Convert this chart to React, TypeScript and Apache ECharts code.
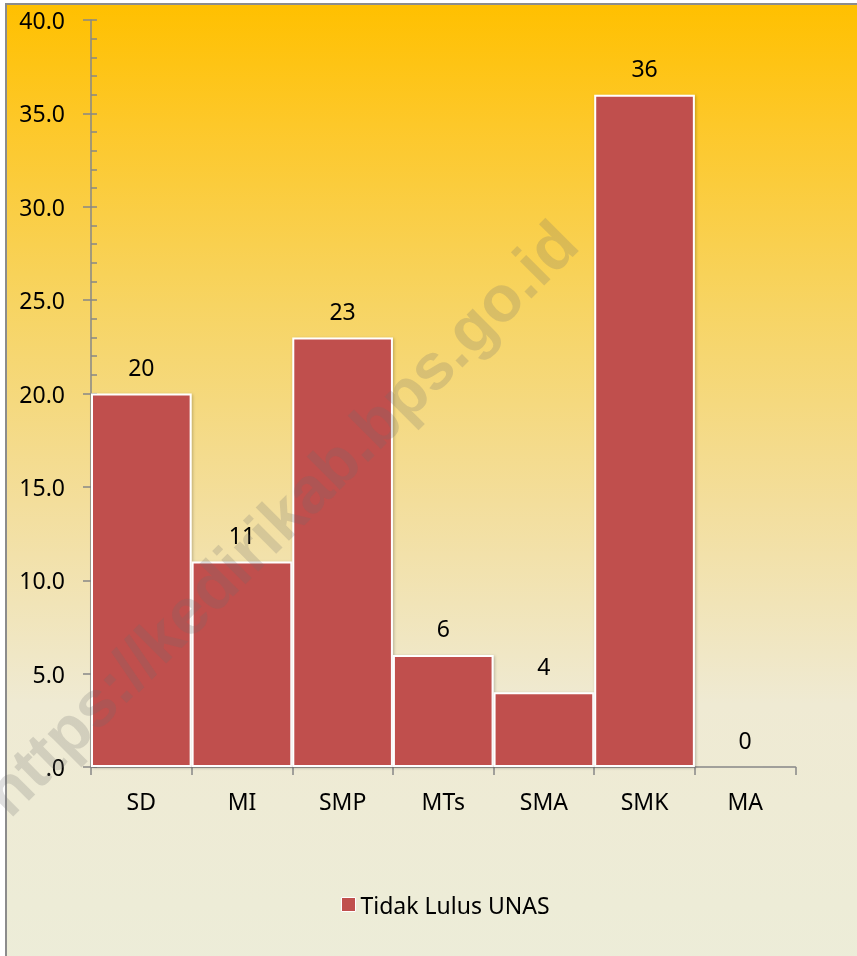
import React, { useEffect, useRef } from "react";
import * as echarts from "echarts";

const categories = ["SD", "MI", "SMP", "MTs", "SMA", "SMK", "MA"];
const values = [20, 11, 23, 6, 4, 36, 0];
const seriesName = "Tidak Lulus UNAS";
const yMin = 0;
const yMax = 40;
const yInterval = 5;
const watermarkText = "https://kedirikab.bps.go.id";

const FONT = "'Noto Sans', sans-serif";
const AXIS_COLOR = "#878787";

export default function App() {
  const ref = useRef<HTMLDivElement>(null);
  useEffect(() => {
    if (!ref.current) return;
    const chart = echarts.init(ref.current, null, { renderer: "svg" });
    const fmt = (v: number) => (v === 0 ? ".0" : v.toFixed(1));
    chart.setOption({
      animation: false,
      backgroundColor: "transparent",
      textStyle: { fontFamily: FONT },
      graphic: [
        {
          type: "rect",
          z: -10,
          silent: true,
          shape: { x: 6, y: 4, width: 900, height: 1000 },
          style: {
            fill: new echarts.graphic.LinearGradient(0, 0, 0, 1, [
              { offset: 0, color: "#FFC000" },
              { offset: 0.12, color: "#FDC829" },
              { offset: 0.3, color: "#F7D462" },
              { offset: 0.5, color: "#F3DE9C" },
              { offset: 0.7, color: "#EFEAD3" },
              { offset: 1, color: "#ECEDD9" },
            ]),
            stroke: "#8C8C8C",
            lineWidth: 2,
          },
        },
        {
          type: "text",
          z: 100,
          silent: true,
          x: 280,
          y: 518,
          rotation: Math.PI / 4,
          style: {
            text: watermarkText,
            font: "bold 65px 'Liberation Sans', Arial, sans-serif",
            fill: "rgba(110,110,110,0.22)",
            align: "center",
            verticalAlign: "middle",
          },
        },
      ],
      grid: { left: 91, right: 61.5, top: 20, bottom: 189, containLabel: false },
      legend: {
        data: [seriesName],
        left: 336,
        top: 888,
        itemWidth: 14,
        itemHeight: 14,
        icon: "rect",
        itemStyle: { borderColor: "#ffffff", borderWidth: 1 },
        textStyle: { fontFamily: FONT, fontSize: 23, color: "#000", padding: [0, 0, 0, 0] },
      },
      xAxis: {
        type: "category",
        data: categories,
        boundaryGap: true,
        axisLine: { show: true, lineStyle: { color: AXIS_COLOR, width: 1.5 } },
        axisTick: { show: true, alignWithLabel: false, length: 8, lineStyle: { color: AXIS_COLOR, width: 1.5 } },
        axisLabel: { fontFamily: FONT, fontSize: 23, color: "#000", margin: 22, interval: 0 },
        splitLine: { show: false },
      },
      yAxis: [
        {
          type: "value",
          min: yMin,
          max: yMax,
          interval: yInterval,
          axisLine: { show: true, lineStyle: { color: AXIS_COLOR, width: 1.5 } },
          axisTick: { show: true, length: 8, lineStyle: { color: AXIS_COLOR, width: 1.5 } },
          axisLabel: { fontFamily: FONT, fontSize: 23, color: "#000", margin: 26, formatter: fmt },
          splitLine: { show: false },
        },
        {
          type: "value",
          min: yMin,
          max: yMax,
          interval: yInterval,
          position: "left",
          axisLine: { show: false },
          axisTick: { show: true, inside: true, length: 6, lineStyle: { color: AXIS_COLOR, width: 1.5 } },
          minorTick: { show: true, splitNumber: 5, length: 6, lineStyle: { color: AXIS_COLOR, width: 1.5 } },
          axisLabel: { show: false },
          splitLine: { show: false },
        },
      ],
      series: [
        {
          name: seriesName,
          type: "bar",
          data: values,
          barCategoryGap: "0%",
          itemStyle: {
            color: "#C0504D",
            borderColor: "#ffffff",
            borderWidth: 2,
            shadowBlur: 3,
            shadowColor: "rgba(0,0,0,0.25)",
            shadowOffsetX: 1,
            shadowOffsetY: 1,
          },
          label: {
            show: true,
            position: "top",
            distance: 15,
            fontFamily: FONT,
            fontSize: 23,
            color: "#000",
          },
        },
      ],
    });
    return () => chart.dispose();
  }, []);
  return (
    <div
      ref={ref}
      style={{ position: "fixed", left: 0, top: 0, width: 857, height: 956 }}
    />
  );
}
